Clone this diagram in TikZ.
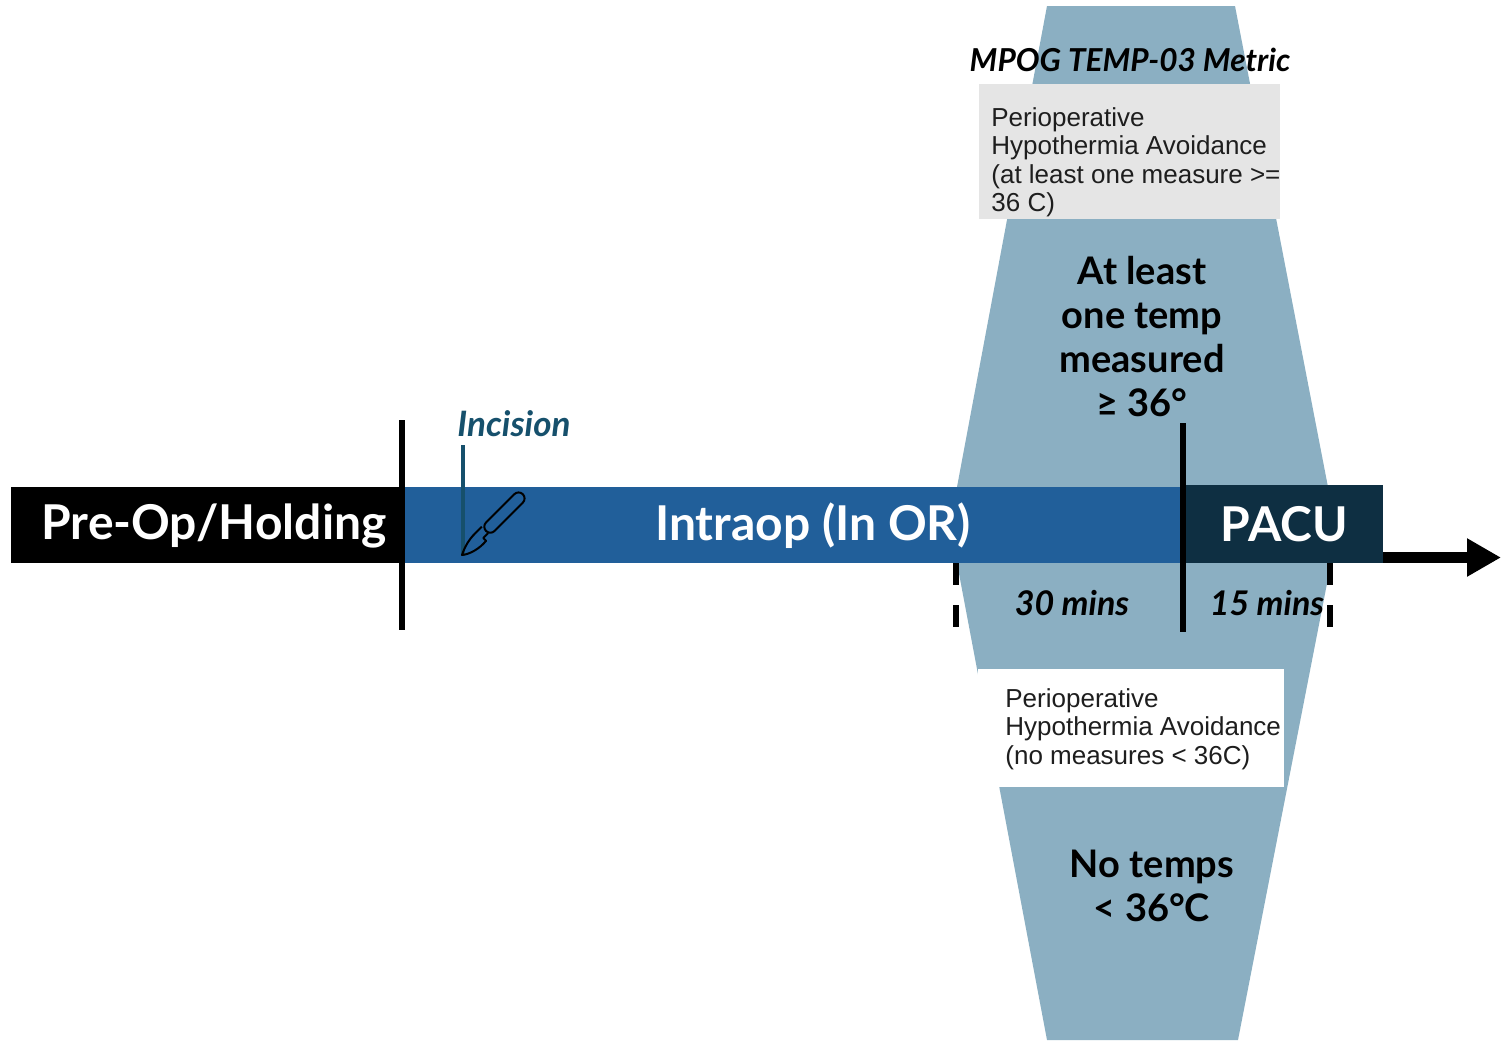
\documentclass[tikz,border=0pt]{standalone}
\usepackage{fontspec}
\setmainfont{Lato}
\newfontfamily\arialf{Liberation Sans}
\usetikzlibrary{arrows.meta}
\definecolor{barblue}{RGB}{33,95,154}
\definecolor{pacublue}{RGB}{14,47,66}
\definecolor{lightb}{RGB}{139,175,194}
\definecolor{grayb}{RGB}{229,229,229}
\definecolor{incis}{RGB}{22,80,108}
\definecolor{boxtext}{RGB}{30,30,30}
\tikzset{
  phase/.style={anchor=north west, inner sep=0pt, text=white, font=\bfseries\fontsize{24pt}{28pt}\selectfont},
  marker/.style={line width=2.6pt, draw=black},
  dashmark/.style={line width=2.6pt, draw=black, dash pattern=on 11pt off 10pt},
  bigtext/.style={font=\bfseries\fontsize{19pt}{22pt}\selectfont, align=center},
  minstext/.style={font=\bfseries\itshape\fontsize{17pt}{20pt}\selectfont},
  metricbox/.style={anchor=north west, inner sep=0pt},
  metrictext/.style={anchor=north west, inner sep=0pt, align=left, text=boxtext, font=\arialf\fontsize{13pt}{14.2pt}\selectfont},
}
\begin{document}
\begin{tikzpicture}[x=0.5pt,y=-0.5pt]
\useasboundingbox (0,0) rectangle (1501,1040);
% light blue metric window
\fill[lightb] (1047,6) -- (1235,6) -- (1328,487) -- (1331,563) -- (1238,1040) -- (1047,1040) -- (957,563) -- (957,487) -- cycle;
% timeline bars
\node[phase, fill=black, minimum width=197pt, minimum height=38pt] (preop) at (11,487) {};
\node[phase, fill=barblue, minimum width=390pt, minimum height=38pt] (intraop) at (405,487) {};
\node[phase, fill=pacublue, minimum width=99pt, minimum height=39pt] (pacu) at (1185,485) {PACU};
\node[text=white, font=\bfseries\fontsize{24pt}{28pt}\selectfont] (preoptext) at (214,526) {Pre-Op/Holding};
\node[text=white, font=\bfseries\fontsize{24pt}{28pt}\selectfont] (intraoptext) at (813,526) {Intraop (In OR)};
% arrow
\coordinate (arrowstart) at (1383,557.5);
\coordinate (arrowend) at (1501,557.5);
\draw[line width=5.5pt, -{Triangle[length=17pt,width=18pt]}] (arrowstart) -- (arrowend);
% markers
\draw[marker] (402,420) -- (402,630);
\draw[marker, line width=3pt] (1183,423) -- (1183,632);
\draw[dashmark] (956,563) -- (956,632);
\draw[dashmark] (1330,563) -- (1330,632);
% incision
\node[text=incis, font=\bfseries\itshape\fontsize{17.5pt}{20pt}\selectfont] (incision) at (514,424) {Incision};
\draw[incis, line width=1.6pt] (463,445) -- (463,556);
\begin{scope}[shift={(462,555)}, rotate=45]
  \draw[black, line width=1pt, rounded corners=3pt] (34,-6) rectangle (86,6);
  \draw[black, line width=1pt, line join=round] (34,3) -- (27,3) -- (27,7) .. controls (17,8) and (6,5) .. (0,0) .. controls (8,-4) and (16,-6) .. (24,-6) -- (34,-6);
\end{scope}
% metric boxes
\node[font=\bfseries\itshape\fontsize{15.8pt}{18pt}\selectfont] (metric) at (1130,60) {MPOG TEMP-03 Metric};
\node[metricbox, fill=grayb, minimum width=150.5pt, minimum height=67.5pt] (gbox) at (979,84) {};
\node[metrictext] (gtext) at (991,107) {Perioperative\\Hypothermia Avoidance\\(at least one measure >=\\36 C)};
\node[metricbox, fill=white, minimum width=153pt, minimum height=59pt] (wbox) at (978,669) {};
\node[metrictext] (wtext) at (1005,688) {Perioperative\\Hypothermia Avoidance\\(no measures < 36C)};
% big texts
\node[bigtext] (atleast) at (1142,337) {At least\\one temp\\measured\\≥ 36°};
\node[bigtext] (notemps) at (1152,886) {No temps\\< 36°C};
\node[minstext] (thirty) at (1072,603) {30 mins};
\node[minstext] (fifteen) at (1267,603) {15 mins};
\end{tikzpicture}
\end{document}
